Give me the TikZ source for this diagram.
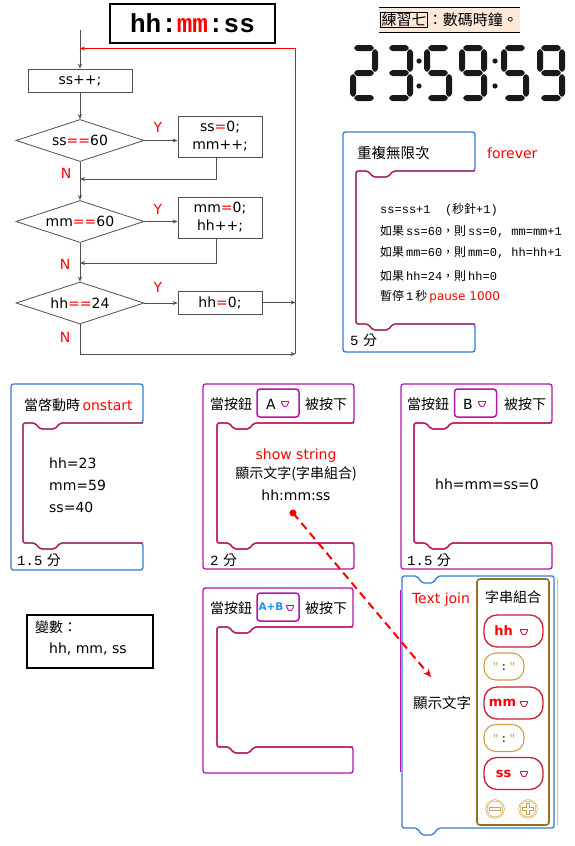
\documentclass[tikz,border=0pt]{standalone}
\usepackage{fontspec}
\setmainfont{DejaVu Sans}
\newfontfamily\cjk{Noto Sans CJK TC}
\newfontfamily\tmono{Liberation Mono}
\usetikzlibrary{shapes.geometric,arrows.meta,calc}
\definecolor{blockblue}{RGB}{58,122,214}
\definecolor{innerc}{RGB}{190,24,80}
\definecolor{magblk}{RGB}{180,20,170}
\definecolor{tanc}{RGB}{205,160,70}
\definecolor{brownc}{RGB}{150,110,30}
\definecolor{pillred}{RGB}{200,30,50}
\definecolor{peach}{RGB}{253,233,217}
\definecolor{abblue}{RGB}{30,144,255}
\definecolor{flow}{RGB}{80,80,80}
\definecolor{clk}{RGB}{25,25,25}
\newcommand\fs[2]{\fontsize{#1}{#2}\selectfont}
\newcommand\cblk[8]{%
 \filldraw[fill=white, draw=#8, line width=1.3pt, rounded corners=2.5pt]
 (#1,#2) -- (#3,#2) -- (#3,#4) -- (#5+37,#4) -- (#5+32,#4+6) -- (#5+17,#4+6) -- (#5+12,#4) -- (#5,#4) -- (#5,#6) -- (#5+12,#6) -- (#5+17,#6+6) -- (#5+32,#6+6) -- (#5+37,#6) -- (#3,#6) -- (#3,#7) -- (#1,#7) -- cycle;
 \draw[draw=innerc, line width=1.3pt, rounded corners=2pt]
 (#3,#4) -- (#5+37,#4) -- (#5+32,#4+6) -- (#5+17,#4+6) -- (#5+12,#4) -- (#5,#4) -- (#5,#6) -- (#5+12,#6) -- (#5+17,#6+6) -- (#5+32,#6+6) -- (#5+37,#6) -- (#3,#6);
}
% seven-segment digit, thickness 6
\newcommand\hsg[2]{\fill[clk,rounded corners=1pt] (#1+3.6,#2) -- (#1+6.6,#2-3) -- (#1+21.4,#2-3) -- (#1+24.4,#2) -- (#1+21.4,#2+3) -- (#1+6.6,#2+3) -- cycle;}
\newcommand\vsg[3]{\fill[clk,rounded corners=1pt] (#1,#2) -- (#1+3,#2+3) -- (#1+3,#3-3) -- (#1,#3) -- (#1-3,#3-3) -- (#1-3,#2+3) -- cycle;}
\newcommand\dsega[1]{\hsg{#1}{48}}
\newcommand\dsegb[1]{\vsg{#1+25}{48.6}{72.4}}
\newcommand\dsegc[1]{\vsg{#1+25}{73.6}{97.4}}
\newcommand\dsegd[1]{\hsg{#1}{98}}
\newcommand\dsege[1]{\vsg{#1+3}{73.6}{97.4}}
\newcommand\dsegf[1]{\vsg{#1+3}{48.6}{72.4}}
\newcommand\dsegg[1]{\hsg{#1}{73}}
\newcommand\sevdig[2]{\foreach \s in {#2}{\csname dseg\s\endcsname{#1}}}
\newcommand\ddtri[3]{\draw[#3, line width=0.9pt, rounded corners=0.6pt] (#1-4,#2-2.5) -- (#1+4,#2-2.5) -- (#1+1.5,#2+2.5) -- (#1-1.5,#2+2.5) -- cycle;}
\begin{document}
\begin{tikzpicture}[x=1pt,y=-1pt,
  arr/.style={draw=flow, line width=0.8pt, -{Stealth[length=5pt,width=4pt]}},
  fbox/.style={draw=flow, line width=0.8pt, rectangle, inner sep=0pt, font=\fs{14}{18}, align=center},
  dia/.style={draw=flow, line width=0.8pt, diamond, aspect=3, inner sep=0pt, minimum width=128pt, minimum height=42pt, font=\fs{14}{17}},
  lbl/.style={text=red, font=\fs{14}{17}, inner sep=0pt},
  tw/.style={inner sep=0pt, anchor=west, font=\fs{14}{17}},
  tc/.style={inner sep=0pt, font=\fs{14}{17}},
  body/.style={inner sep=0pt, anchor=west, font=\fs{12}{14}},
  dd/.style={draw=magblk, line width=1.5pt, rounded corners=3pt, minimum width=42pt, minimum height=28pt, inner sep=0pt},
  pill/.style={draw=pillred, line width=1.3pt, fill=white, rounded corners=13pt, minimum width=59pt, minimum height=32pt, inner sep=0pt},
  qpill/.style={draw=tanc, line width=1.1pt, fill=white, rounded corners=12pt, minimum width=40pt, minimum height=27pt, inner sep=0pt}
]
\useasboundingbox (0,0) rectangle (575,846);
\fill[white] (0,0) rectangle (575,846);

% ---------------- flowchart ----------------
\node[draw=black, line width=1.2pt, minimum width=165pt, minimum height=39pt, inner sep=0pt, font=\tmono\bfseries\fs{26}{30}] (title) at (192.5,23.5) {hh:\textcolor{red}{mm}:ss};
\coordinate (top) at (80,30);
\node[fbox, minimum width=104pt, minimum height=23pt] (b1) at (80,80.5) {ss++;};
\node[dia] (d1) at (80,140.5) {ss\textcolor{red}{==}60};
\node[fbox, minimum width=84pt, minimum height=41pt] (b2) at (220,136.5) {ss\textcolor{red}{=}0;\\mm++;};
\node[dia] (d2) at (80,221.5) {mm\textcolor{red}{==}60};
\node[fbox, minimum width=84pt, minimum height=41pt] (b3) at (220,217.5) {mm\textcolor{red}{=}0;\\hh++;};
\node[dia] (d3) at (80,303) {hh\textcolor{red}{==}24};
\node[fbox, minimum width=84pt, minimum height=23pt] (b4) at (220,302.5) {hh\textcolor{red}{=}0;};
\coordinate (rtop) at (295.5,48.5);
\coordinate (rbot) at (295.5,354);
\coordinate (rin) at (80,48.5);
\coordinate (j1) at (80,179);
\coordinate (j2) at (80,263);

\draw[arr] (top) -- (b1.north);
\draw[arr] (b1.south) -- (d1.north);
\draw[arr] (d1.east) -- (d1.east -| b2.west);
\draw[arr] ([xshift=-4pt]b2.south) |- (j1);
\draw[arr] (d1.south) -- (d2.north);
\draw[arr] (d2.east) -- (d2.east -| b3.west);
\draw[arr] ([xshift=-4pt]b3.south) |- (j2);
\draw[arr] (d2.south) -- (d3.north);
\draw[arr] (d3.east) -- (d3.east -| b4.west);
\draw[red, line width=1.1pt, -{Stealth[length=5pt,width=4pt]}] (rbot) -- (rtop) -- (rin);
\draw[arr] (b4.east) -- (b4.east -| rbot);
\draw[arr] (d3.south) |- (rbot);

\node[lbl] (y1) at (158,127) {Y};
\node[lbl] (y2) at (158,209) {Y};
\node[lbl] (y3) at (158,287) {Y};
\node[lbl] (n1) at (66,173) {N};
\node[lbl] (n2) at (65,264) {N};
\node[lbl] (n3) at (65,337) {N};

% ---------------- title & clock ----------------
\fill[peach] (379,7) rectangle (520,32);
\draw[black, line width=0.8pt] (379,7) -- (520,7) (379,32) -- (520,32);
\node[draw=black, line width=0.8pt, inner sep=0.8pt, font=\cjk\fs{15}{17}] (t7) at (404,20) {練習七};
\node[inner sep=0pt, anchor=west, font=\cjk\fs{15}{17}] (t7b) at (t7.east) {：數碼時鐘。};

\sevdig{350}{a,b,g,e,d}
\sevdig{385}{a,b,g,c,d}
\sevdig{424}{a,f,g,c,d}
\sevdig{459}{a,b,c,d,f,g}
\sevdig{501}{a,f,g,c,d}
\sevdig{537}{a,b,c,d,f,g}
\fill[clk] (419,61) circle (2.6pt) (419,86) circle (2.6pt) (495,61) circle (2.6pt) (495,86) circle (2.6pt);

% ---------------- forever block ----------------
\cblk{343}{132}{475}{171}{356}{324}{352}{blockblue}
\node[tw, font=\cjk\fs{14.5}{17}] (fv) at (357,153) {重複無限次};
\node[tw, text=red] (fve) at (487,153) {forever};
\node[body] (l1) at (380,210) {\tmono ss=ss+1\ \ (\cjk 秒針\tmono +1)};
\node[body] (l2) at (380,232) {{\cjk 如果}\,{\tmono ss=60}{\cjk ，則}\,{\tmono ss=0, mm=mm+1}};
\node[body] (l3) at (380,253) {{\cjk 如果}\,{\tmono mm=60}{\cjk ，則}\,{\tmono mm=0, hh=hh+1}};
\node[body] (l4) at (380,276) {{\cjk 如果}\,{\tmono hh=24}{\cjk ，則}\,{\tmono hh=0}};
\node[body] (l5) at (380,297) {{\cjk 暫停}\,{\tmono 1}\,{\cjk 秒}\,\textcolor{red}{pause 1000}};
\node[tw] (fm) at (350,340) {{\tmono 5} {\cjk 分}};

% ---------------- onstart block ----------------
\cblk{11}{384}{143}{423}{23}{543}{570}{blockblue}
\node[tw] (os) at (24,405) {{\cjk 當啓動時}\,\textcolor{red}{onstart}};
\node[tw] (o1) at (49,463) {hh=23};
\node[tw] (o2) at (49,485) {mm=59};
\node[tw] (o3) at (49,507) {ss=40};
\node[tw] (om) at (17,560) {{\tmono 1.5} {\cjk 分}};

% ---------------- button A ----------------
\cblk{203}{384}{354}{423}{217}{543}{569}{magblk}
\node[tw, font=\cjk\fs{14}{17}] (ah1) at (210,404) {當按鈕};
\node[dd] (dda) at (278,403) {};
\node[tc] (dal) at (271,404) {A};
\ddtri{285}{404}{magblk}
\node[tw, font=\cjk\fs{14}{17}] (ah2) at (305,404) {被按下};
\node[tc, text=red] (ss1) at (296,456) {show string};
\node[tc, font=\cjk\fs{14}{17}] (ss2) at (296,474) {顯示文字(字串組合)};
\node[tc] (ss3) at (296,495) {hh:mm:ss};
\node[tw] (am) at (210,560) {{\tmono 2} {\cjk 分}};

% ---------------- button B ----------------
\cblk{401}{384}{552}{423}{414}{543}{569}{magblk}
\node[tw, font=\cjk\fs{14}{17}] (bh1) at (407,404) {當按鈕};
\node[dd] (ddb) at (475.5,403) {};
\node[tc] (dbl) at (468,404) {B};
\ddtri{482}{404}{magblk}
\node[tw, font=\cjk\fs{14}{17}] (bh2) at (504,404) {被按下};
\node[tc] (bz) at (487,484) {hh=mm=ss=0};
\node[tw] (bm) at (407,560) {{\tmono 1.5} {\cjk 分}};

% ---------------- button A+B ----------------
\cblk{203}{588}{353}{627}{217}{747}{773}{magblk}
\node[tw, font=\cjk\fs{14}{17}] (ch1) at (210,608) {當按鈕};
\node[dd] (ddc) at (278,607) {};
\node[tc, text=abblue, font=\bfseries\fs{10.5}{12}] (dcl) at (271,607) {A+B};
\ddtri{290}{608}{magblk}
\node[tw, font=\cjk\fs{14}{17}] (ch2) at (305,608) {被按下};

% ---------------- variables ----------------
\node[draw=black, line width=1.2pt, minimum width=126pt, minimum height=53pt, inner sep=0pt] (vars) at (90,641.5) {};
\node[tw, font=\cjk\fs{14}{17}] (v1) at (35,627) {變數：};
\node[tw] (v2) at (49,649) {hh, mm, ss};

% ---------------- text join block ----------------
\draw[magblk, line width=1.5pt] (400.5,590) -- (400.5,772);
\draw[blockblue!40, line width=1pt] (557,578) -- (557,826);
\filldraw[fill=white, draw=blockblue, line width=1.3pt, rounded corners=2pt]
  (402,576) -- (417,576) -- (422,583) -- (433,583) -- (438,576) -- (554,576) -- (554,828) -- (438,828) -- (433,835) -- (422,835) -- (417,828) -- (402,828) -- cycle;
\node[tc, text=red] (tj) at (441,600) {Text join};
\node[tc, font=\cjk\fs{14.5}{17}] (sw) at (442,703) {顯示文字};
\draw[brownc, line width=1.6pt, rounded corners=3pt] (477,579) rectangle (549,825);
\node[tc, font=\cjk\fs{14}{17}] (zc) at (513,597) {字串組合};
\node[pill] (p1) at (513.5,631) {};
\node[tc, text=red, font=\bfseries\fs{13}{15}] at (503.5,631) {hh};
\ddtri{524}{632}{pillred}
\node[qpill] (q1) at (504,666.5) {};
\node[tc, font=\tmono\fs{11}{13}] at (504,667) {\textcolor{tanc}{"}\,:\,\textcolor{tanc}{"}};
\node[pill] (p2) at (513.5,703) {};
\node[tc, text=red, font=\bfseries\fs{13}{15}] at (502.5,703) {mm};
\ddtri{524}{704}{pillred}
\node[qpill] (q2) at (504,738) {};
\node[tc, font=\tmono\fs{11}{13}] at (504,738.5) {\textcolor{tanc}{"}\,:\,\textcolor{tanc}{"}};
\node[pill] (p3) at (513.5,773.5) {};
\node[tc, text=red, font=\bfseries\fs{13}{15}] at (503.5,773.5) {ss};
\ddtri{524}{774}{pillred}
% minus / plus icons (hollow outlines)
\draw[tanc, line width=2pt] (495,809) circle (8.6pt) (528,809) circle (8.6pt);
\draw[white, line width=0.8pt] (495,809) circle (8.6pt) (528,809) circle (8.6pt);
\draw[tanc, line width=3.8pt] (489,809) -- (501,809) (522,809) -- (534,809) (528,803) -- (528,815);
\draw[white, line width=2pt] (490,809) -- (500,809) (523,809) -- (533,809) (528,804) -- (528,814);

% ---------------- red dashed arrow ----------------
\node[circle, fill=red, inner sep=0pt, minimum size=7pt] (dot) at (293,513) {};
\coordinate (tip) at (431,677);
\draw[red, line width=2pt, dash pattern=on 8pt off 5pt, -{Stealth[length=8pt,width=7pt]}] (dot.center) -- (tip);
\end{tikzpicture}
\end{document}
